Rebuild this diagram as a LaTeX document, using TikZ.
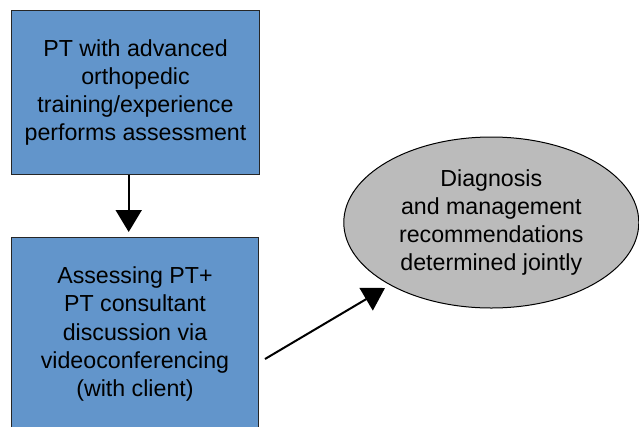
\documentclass[tikz,border=0pt]{standalone}
\usepackage{fontspec}
\setmainfont{Liberation Sans}
\usetikzlibrary{shapes.geometric,arrows.meta}
\definecolor{boxblue}{RGB}{98,149,203}
\definecolor{ellgray}{RGB}{187,187,187}
\begin{document}
\begin{tikzpicture}[x=1pt,y=-1pt,
  txt/.style={font=\fontsize{23.2}{28.3}\selectfont, align=center, text=black},
  bluebox/.style={txt, rectangle, draw=black!85, line width=1pt, fill=boxblue, inner sep=0pt},
  grayell/.style={txt, ellipse, draw=black, line width=1pt, fill=ellgray, inner sep=0pt, minimum width=295pt, minimum height=171pt},
  conn/.style={line width=2pt, -{Triangle[length=22pt,width=26pt]}}]
\useasboundingbox (0,0) rectangle (639,426);
\node[bluebox, minimum width=248pt, minimum height=164.4pt] (b1) at (135.5,92.5)
  {PT with advanced\\orthopedic\\training/experience\\performs assessment};
\node[bluebox, minimum width=246.6pt, minimum height=193.6pt] (b2) at (135,334.1)
  {Assessing PT+\\PT consultant\\discussion via\\videoconferencing\\(with client)};
\node[grayell] (e) at (491.3,222.5)
  {Diagnosis\\and management\\recommendations\\determined jointly};
\coordinate (a2s) at (265,359);
\coordinate (a2e) at (385,288);
\coordinate (a1e) at (128.7,232);
\draw[conn] (b1.south -| a1e) -- (a1e);
\draw[conn] (a2s) -- (a2e);
\end{tikzpicture}
\end{document}
